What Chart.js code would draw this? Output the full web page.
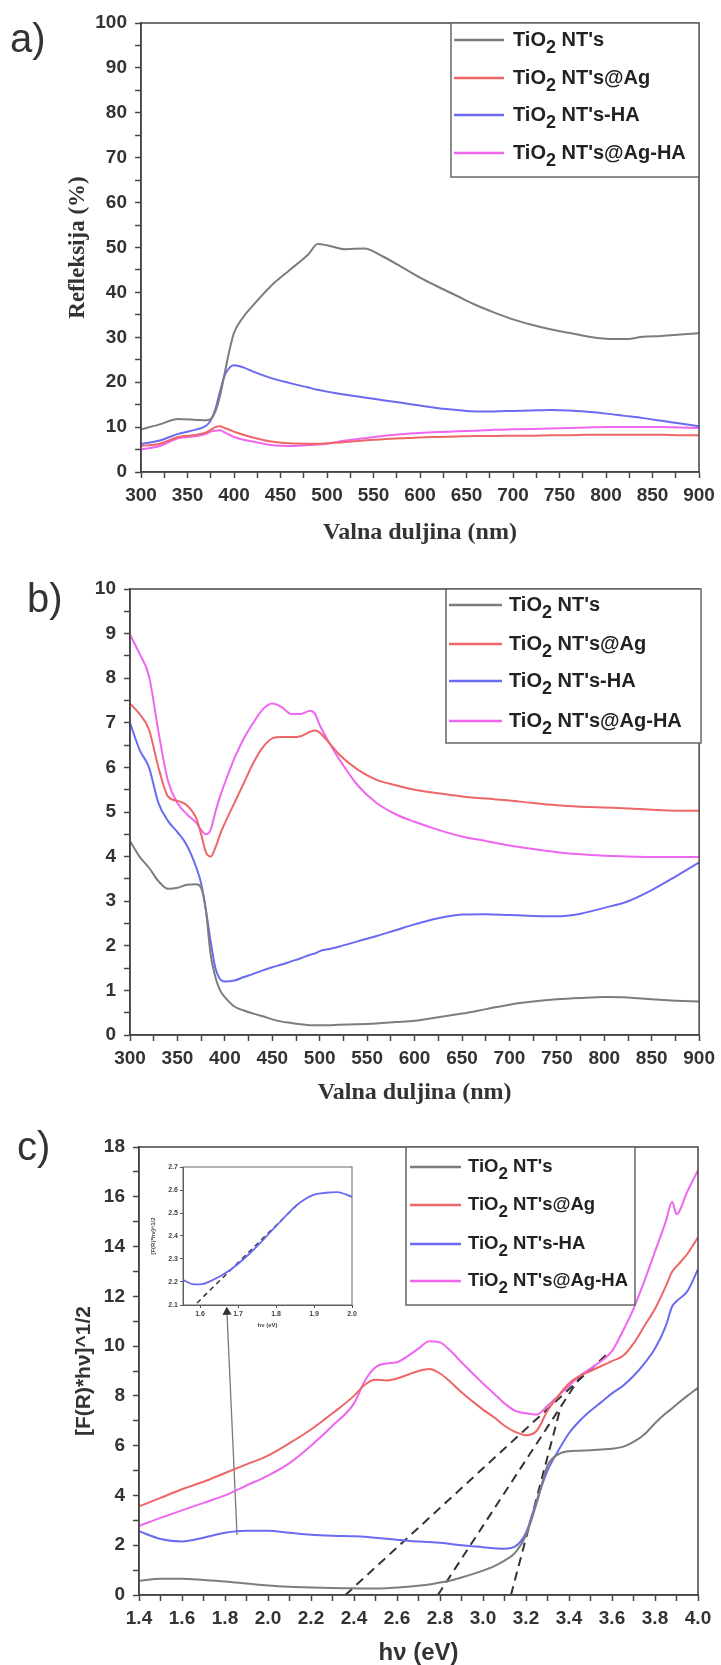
<!DOCTYPE html>
<html>
<head>
<meta charset="utf-8">
<script src="https://cdn.jsdelivr.net/npm/chart.js@4.4.1/dist/chart.umd.min.js"></script>
<style>
  html, body { margin: 0; padding: 0; background: #fff; }
  #page { position: relative; width: 721px; height: 1665px; overflow: hidden; }
  canvas { position: absolute; }
  .tag { position: absolute; font: 40px "Liberation Sans", Arial, sans-serif; line-height: 40px; color: #333; }
</style>
</head>
<body>
<div id="page">
  <canvas id="chartA" width="721" height="560" style="left:0;top:0;width:721px;height:560px"></canvas>
  <canvas id="chartB" width="721" height="550" style="left:0;top:560px;width:721px;height:550px"></canvas>
  <canvas id="chartC" width="721" height="555" style="left:0;top:1110px;width:721px;height:555px"></canvas>
  <canvas id="inset" width="215" height="180" style="left:148px;top:1155px;width:215px;height:180px"></canvas>
  <div class="tag" style="left:10px;top:18px">a)</div>
  <div class="tag" style="left:27px;top:578px">b)</div>
  <div class="tag" style="left:17px;top:1126px">c)</div>
</div>
<script>
const SANS = '"Liberation Sans", Arial, sans-serif';
const SERIF = '"Liberation Serif", "Times New Roman", serif';

const names = ["TiO₂ NT's", "TiO₂ NT's@Ag", "TiO₂ NT's-HA", "TiO₂ NT's@Ag-HA"];
const colors = ['#7d7d7d', '#ef6666', '#6a6af2', '#ef66ef'];

// a) reflectance (%) vs wavelength (nm)
const aWave = [300,320,340,360,370,375,380,385,390,395,400,410,420,440,460,480,490,500,520,540,560,580,600,620,640,660,680,700,720,740,760,780,800,820,840,860,880,900];
const aNT   = [9.5,10.6,11.8,11.6,11.5,11.8,13.5,17,22,27,31,34.5,37,41.5,45,48.5,50.8,50.5,49.6,49.8,48,45.7,43.3,41.2,39.2,37.2,35.5,34,32.8,31.8,31,30.2,29.7,29.6,30.1,30.3,30.6,30.9];
const aAg   = [5.8,6.3,7.8,8.3,8.8,9.4,10,10.2,9.8,9.4,9,8.3,7.7,6.8,6.4,6.3,6.3,6.4,6.7,7,7.3,7.5,7.7,7.8,7.9,8,8,8.1,8.1,8.2,8.2,8.3,8.3,8.3,8.3,8.3,8.2,8.2];
const aHA   = [6.2,7,8.5,9.5,10.3,11.5,14,18,21.5,23.2,23.8,23.3,22.4,20.9,19.8,18.8,18.3,17.9,17.2,16.6,16,15.4,14.8,14.2,13.8,13.5,13.5,13.6,13.7,13.8,13.7,13.4,13,12.5,12,11.4,10.8,10.2];
const aAgHA = [5,5.8,7.5,8,8.5,9,9.2,9.3,8.8,8.3,7.8,7.2,6.8,6,5.8,6,6.1,6.3,7,7.5,8,8.4,8.7,8.9,9.1,9.2,9.4,9.5,9.6,9.7,9.8,9.9,10,10,10,10,9.9,9.8];

// b) absorbance vs wavelength (nm)
const bWave = [300,310,320,330,340,350,360,370,375,380,385,390,395,400,410,420,430,440,450,460,470,480,490,495,500,510,520,540,560,580,600,625,650,675,700,725,750,775,800,825,850,875,900];
const bNT   = [4.35,4.0,3.75,3.45,3.28,3.3,3.37,3.38,3.3,2.8,1.8,1.3,1.0,0.85,0.64,0.55,0.48,0.42,0.35,0.3,0.27,0.24,0.22,0.22,0.22,0.22,0.23,0.24,0.26,0.29,0.32,0.4,0.48,0.58,0.68,0.75,0.8,0.83,0.85,0.84,0.8,0.77,0.75];
const bAg   = [7.43,7.2,6.85,6.0,5.35,5.25,5.15,4.85,4.5,4.1,4.0,4.2,4.5,4.75,5.2,5.65,6.1,6.45,6.65,6.68,6.68,6.7,6.8,6.83,6.78,6.55,6.3,5.95,5.72,5.6,5.5,5.42,5.35,5.3,5.26,5.2,5.15,5.12,5.1,5.08,5.05,5.03,5.03];
const bHA   = [7.0,6.4,6.0,5.2,4.8,4.55,4.25,3.75,3.4,2.8,2.1,1.5,1.25,1.2,1.22,1.3,1.37,1.45,1.52,1.58,1.65,1.72,1.8,1.83,1.88,1.93,1.98,2.1,2.22,2.35,2.48,2.62,2.7,2.71,2.69,2.67,2.66,2.72,2.85,3.0,3.25,3.55,3.87];
const bAgHA = [8.98,8.55,8.05,6.8,5.7,5.2,4.95,4.75,4.6,4.5,4.6,5.0,5.35,5.65,6.2,6.65,7.0,7.3,7.43,7.35,7.2,7.2,7.27,7.2,6.95,6.55,6.2,5.6,5.2,4.95,4.78,4.6,4.45,4.35,4.25,4.17,4.1,4.05,4.02,4.0,3.99,3.99,3.99];

// c) [F(R)*hv]^1/2 vs photon energy (eV)
const cEnergy = [1.4,1.5,1.6,1.7,1.8,1.9,2.0,2.1,2.2,2.3,2.4,2.45,2.5,2.55,2.6,2.65,2.7,2.75,2.8,2.85,2.9,3.0,3.05,3.1,3.15,3.2,3.25,3.3,3.35,3.4,3.45,3.5,3.55,3.6,3.65,3.7,3.75,3.8,3.85,3.88,3.9,3.95,4.0];
const cNT   = [0.57,0.65,0.65,0.6,0.54,0.46,0.38,0.33,0.3,0.28,0.27,0.26,0.26,0.27,0.3,0.33,0.37,0.42,0.5,0.58,0.7,0.98,1.15,1.38,1.7,2.4,3.7,5.2,5.65,5.78,5.8,5.82,5.85,5.88,5.95,6.15,6.45,6.9,7.3,7.5,7.65,8.0,8.32];
const cAg   = [3.56,3.9,4.25,4.55,4.9,5.25,5.6,6.1,6.65,7.3,8.0,8.45,8.65,8.62,8.7,8.85,9.0,9.08,8.9,8.55,8.15,7.45,7.15,6.8,6.55,6.42,6.6,7.4,8.0,8.5,8.8,9.0,9.2,9.4,9.6,10.1,10.8,11.5,12.4,13.0,13.2,13.7,14.37];
const cHA   = [2.56,2.25,2.15,2.3,2.5,2.58,2.58,2.5,2.42,2.38,2.36,2.34,2.3,2.26,2.22,2.18,2.15,2.13,2.1,2.05,2.0,1.92,1.88,1.86,1.95,2.5,3.8,5.0,5.8,6.5,7.0,7.4,7.75,8.1,8.4,8.8,9.3,9.9,10.8,11.6,11.8,12.2,13.09];
const cAgHA = [2.77,3.1,3.4,3.7,4.0,4.4,4.8,5.3,6.0,6.8,7.7,8.6,9.15,9.3,9.35,9.6,9.9,10.2,10.15,9.8,9.35,8.5,8.1,7.7,7.4,7.3,7.25,7.6,8.0,8.4,8.8,9.1,9.4,9.8,10.6,11.5,12.6,13.8,15.0,15.8,15.3,16.2,17.07];

// tangent lines (Tauc extrapolation) in panel c
const fit1X = [2.36, 3.58], fit1Y = [0, 9.7];
const fit2X = [2.79, 3.47], fit2Y = [0, 9.0];
const fit3X = [3.13, 3.36], fit3Y = [0, 7.5];
const arrowX = [1.856, 1.809], arrowY = [2.41, 11.37];

// inset of panel c
const insetEnergy = [1.555,1.58,1.6,1.634,1.679,1.732,1.803,1.855,1.897,1.93,1.961,2.0];
const insetHA     = [2.209,2.191,2.19,2.209,2.252,2.326,2.448,2.535,2.578,2.588,2.591,2.57];
const insetFitX = [1.592, 1.855], insetFitY = [2.109, 2.535];

const pts = (xs, ys) => xs.map((x, i) => ({ x, y: ys[i] }));

const frame = {
  id: 'frame',
  afterDatasetsDraw(chart) {
    const { ctx, chartArea: a } = chart;
    ctx.save();
    ctx.strokeStyle = '#444';
    ctx.lineWidth = 1.5;
    ctx.strokeRect(a.left, a.top, a.right - a.left, a.bottom - a.top);
    ctx.restore();
  }
};

function boxLegend(cfg) {
  return {
    id: 'boxLegend',
    afterDraw(chart) {
      const ctx = chart.ctx;
      const [l, t, r, b] = cfg.box;
      ctx.save();
      ctx.fillStyle = '#fff';
      ctx.fillRect(l, t, r - l, b - t);
      ctx.strokeStyle = '#666';
      ctx.lineWidth = 1.5;
      ctx.strokeRect(l, t, r - l, b - t);
      cfg.rows.forEach((y, i) => {
        const ds = chart.data.datasets[i];
        ctx.strokeStyle = ds.borderColor;
        ctx.lineWidth = 2.5;
        ctx.beginPath();
        ctx.moveTo(cfg.line[0], y);
        ctx.lineTo(cfg.line[1], y);
        ctx.stroke();
        const parts = ds.label.split('₂');
        ctx.fillStyle = '#222';
        ctx.textBaseline = 'middle';
        let x = cfg.textX;
        ctx.font = 'bold ' + cfg.size + 'px ' + SANS;
        ctx.fillText(parts[0], x, y);
        x += ctx.measureText(parts[0]).width;
        ctx.font = 'bold ' + Math.round(cfg.size * 0.9) + 'px ' + SANS;
        ctx.fillText('2', x, y + cfg.size * 0.38);
        x += ctx.measureText('2').width;
        ctx.font = 'bold ' + cfg.size + 'px ' + SANS;
        ctx.fillText(parts[1], x, y);
      });
      ctx.restore();
    }
  };
}

function series(xs, ys, i) {
  return {
    label: names[i], data: pts(xs, ys), borderColor: colors[i], borderWidth: 2,
    pointRadius: 0, cubicInterpolationMode: 'monotone', fill: false
  };
}

function xAxis(min, max, step, label, title, tickSize, titleFont, titlePad, h) {
  return {
    type: 'linear', min, max,
    ticks: { stepSize: step, autoSkip: false, maxRotation: 0, padding: 6, color: '#333',
             font: { family: SANS, weight: 'bold', size: tickSize }, callback: label },
    grid: { drawOnChartArea: false, tickLength: 6, tickColor: '#444', tickWidth: 1.5 },
    border: { color: '#444', width: 1.5 },
    title: { display: !!title, text: title, color: '#333', font: titleFont, padding: { top: 0, bottom: titlePad } },
    afterFit(s) { s.height = h; }
  };
}

function yAxis(min, max, step, label, title, tickSize, titleFont, titlePad, w) {
  return {
    type: 'linear', min, max,
    ticks: { stepSize: step, autoSkip: false, padding: 8, color: '#333',
             font: { family: SANS, weight: 'bold', size: tickSize }, callback: label },
    grid: { drawOnChartArea: false, tickLength: 6, tickColor: '#444', tickWidth: 1.5 },
    border: { color: '#444', width: 1.5 },
    title: { display: !!title, text: title, color: '#333', font: titleFont, padding: { top: titlePad, bottom: 0 } },
    afterFit(s) { s.width = w; }
  };
}

const common = {
  responsive: false, animation: false,
  plugins: { legend: { display: false }, tooltip: { enabled: false } }
};

const isInt = v => Math.abs(v - Math.round(v)) < 1e-6;

// panel a
new Chart(document.getElementById('chartA'), {
  type: 'line',
  data: { datasets: [series(aWave, aNT, 0), series(aWave, aAg, 1), series(aWave, aHA, 2), series(aWave, aAgHA, 3)] },
  options: Object.assign({}, common, {
    layout: { padding: { left: 56, top: 23, right: 22, bottom: 0 } },
    scales: {
      x: xAxis(300, 900, 25, v => v % 50 === 0 ? String(v) : '', 'Valna duljina (nm)', 19,
               { family: SERIF, weight: 'bold', size: 24 }, 13, 88),
      y: yAxis(0, 100, 5, v => v % 10 === 0 ? String(v) : '', 'Refleksija (%)', 19,
               { family: SERIF, weight: 'bold', size: 23 }, 8, 85)
    }
  }),
  plugins: [frame, boxLegend({ box: [451, 23, 699, 177], line: [454, 504], textX: 513, rows: [40, 78, 115, 153], size: 20 })]
});

// panel b
new Chart(document.getElementById('chartB'), {
  type: 'line',
  data: { datasets: [series(bWave, bNT, 0), series(bWave, bAg, 1), series(bWave, bHA, 2), series(bWave, bAgHA, 3)] },
  options: Object.assign({}, common, {
    layout: { padding: { left: 50, top: 29, right: 20, bottom: 0 } },
    scales: {
      x: xAxis(300, 900, 25, v => v % 50 === 0 ? String(v) : '', 'Valna duljina (nm)', 19,
               { family: SERIF, weight: 'bold', size: 24 }, 3, 75),
      y: yAxis(0, 10, 0.5, v => isInt(v) ? String(Math.round(v)) : '', '', 19, {}, 0, 80)
    }
  }),
  plugins: [frame, boxLegend({ box: [446, 29, 701, 183], line: [449, 502], textX: 509, rows: [45, 84, 121, 161], size: 20 })]
});

// panel c
const dashed = (xs, ys) => ({
  label: 'fit', data: pts(xs, ys), borderColor: '#333', borderWidth: 2, borderDash: [9, 6],
  pointRadius: 0, tension: 0, fill: false
});
new Chart(document.getElementById('chartC'), {
  type: 'line',
  data: {
    datasets: [
      series(cEnergy, cNT, 0), series(cEnergy, cAg, 1), series(cEnergy, cHA, 2), series(cEnergy, cAgHA, 3),
      dashed(fit1X, fit1Y), dashed(fit2X, fit2Y), dashed(fit3X, fit3Y),
      { label: 'arrow', data: pts(arrowX, arrowY), borderColor: '#777', borderWidth: 1.3, tension: 0,
        pointRadius: [0, 4], pointStyle: 'triangle', pointRotation: -3,
        pointBackgroundColor: '#333', pointBorderColor: '#333', fill: false }
    ]
  },
  options: Object.assign({}, common, {
    layout: { padding: { left: 60, top: 37, right: 23, bottom: 0 } },
    scales: {
      x: xAxis(1.4, 4.0, 0.1, v => isInt(v * 5) ? v.toFixed(1) : '', 'hν (eV)', 19,
               { family: SANS, weight: 'bold', size: 24, lineHeight: 1 }, 0, 70),
      y: yAxis(0, 18, 1, v => isInt(v / 2) ? String(Math.round(v)) : '', '[F(R)*hν]^1/2', 19,
               { family: SANS, weight: 'bold', size: 21 }, 12, 79)
    }
  }),
  plugins: [frame, boxLegend({ box: [406, 37, 635, 195], line: [410, 461], textX: 468, rows: [57, 95, 134, 171], size: 18.5 })]
});

// inset
const small = { family: SANS, size: 7, weight: 'bold' };
new Chart(document.getElementById('inset'), {
  type: 'line',
  data: {
    datasets: [
      { label: names[2], data: pts(insetEnergy, insetHA), borderColor: colors[2], borderWidth: 1.8,
        pointRadius: 0, cubicInterpolationMode: 'monotone', fill: false },
      { label: 'fit', data: pts(insetFitX, insetFitY), borderColor: '#333', borderWidth: 1.5,
        borderDash: [5, 4], pointRadius: 0, tension: 0, fill: false }
    ]
  },
  options: Object.assign({}, common, {
    layout: { padding: { left: 0, top: 12, right: 11, bottom: 0 } },
    scales: {
      x: {
        type: 'linear', min: 1.555, max: 2.0,
        ticks: { stepSize: 0.1, includeBounds: false, autoSkip: false, maxRotation: 0, padding: 2, color: '#444',
                 font: small, callback: v => v.toFixed(1) },
        grid: { drawOnChartArea: false, tickLength: 3, tickColor: '#555' },
        border: { color: '#555', width: 1 },
        title: { display: true, text: 'hν (eV)', color: '#444', font: { family: SANS, size: 6, weight: 'bold' },
                 padding: { top: 0, bottom: 6 } },
        afterFit(s) { s.height = 30; }
      },
      y: {
        type: 'linear', min: 2.1, max: 2.7,
        ticks: { stepSize: 0.1, autoSkip: false, padding: 2, color: '#444', font: small, callback: v => v.toFixed(1) },
        grid: { drawOnChartArea: false, tickLength: 3, tickColor: '#555' },
        border: { color: '#555', width: 1 },
        title: { display: true, text: '[F(R)*hν]^1/2', color: '#444', font: { family: SANS, size: 6, weight: 'bold' },
                 padding: { top: 2, bottom: 0 } },
        afterFit(s) { s.width = 35; }
      }
    }
  }),
  plugins: [{
    id: 'insetFrame',
    afterDatasetsDraw(chart) {
      const { ctx, chartArea: a } = chart;
      ctx.save();
      ctx.strokeStyle = '#666';
      ctx.lineWidth = 1;
      ctx.strokeRect(a.left, a.top, a.right - a.left, a.bottom - a.top);
      ctx.restore();
    }
  }]
});
</script>
</body>
</html>
